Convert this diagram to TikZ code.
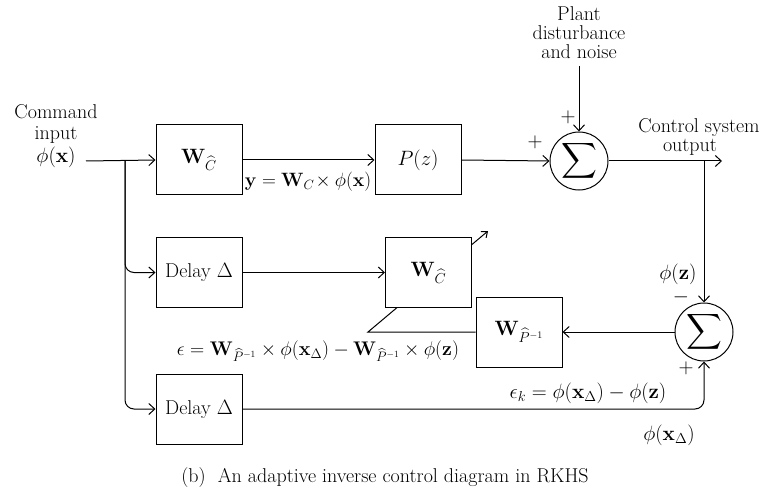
\documentclass[tikz,border=0pt]{standalone}
\usepackage{amsmath}
\usetikzlibrary{arrows.meta}
\begin{document}
\begin{tikzpicture}[x=1pt,y=-1pt,
  every node/.style={font=\fontsize{20}{19}\selectfont},
  blk/.style={draw,line width=1pt,fill=white,minimum width=86pt,minimum height=70pt,inner sep=0pt},
  sumc/.style={draw,line width=1pt,circle,minimum size=58pt,inner sep=0pt},
  conn/.style={line width=1pt},
  arr/.style={conn,-{Straight Barb[length=6pt,width=11pt,line width=1pt]}},
  lbl/.style={inner sep=1pt}]
\useasboundingbox (0,0) rectangle (769,492);
% text nodes
\node[lbl,align=center] (cmd) at (56,136) {Command\\[2pt]input\\[2pt]$\phi(\mathbf{x})$};
\coordinate (in) at (86,161);
\node[lbl,align=center,anchor=north] (plant) at (579,5) {Plant\\disturbance\\and noise};
\coordinate (plantend) at (579,66);
\node[lbl,align=center] (outtxt) at (699,137) {Control system\\output\hspace*{18pt}};
% blocks
\node[blk] (wc1) at (199,160) {$\mathbf{W}_{\widehat{C}}$};
\node[blk] (pz) at (418,160) {$P(z)$};
\node[sumc] (s1) at (579,161) {\fontsize{26}{26}\selectfont$\displaystyle\sum$};
\coordinate (outend) at (722,161);
\coordinate (br2) at (704,161);
\node[blk] (d1) at (199,272.5) {Delay $\Delta$};
\node[blk] (d2) at (199,409) {Delay $\Delta$};
\node[blk] (wp) at (519,332) {$\mathbf{W}_{\widehat{P}^{-1}}$};
\node[sumc] (s2) at (704,332) {\fontsize{26}{26}\selectfont$\displaystyle\sum$};
% adaptive line behind wc2
\coordinate (kink) at (368,332);
\coordinate (adtip) at (488,231);
\draw[conn,-{Straight Barb[length=5pt,width=8pt,line width=1pt]}] (wp.west) -- (kink) -- (adtip);
\node[blk] (wc2) at (428.5,272.5) {$\mathbf{W}_{\widehat{C}}$};
% connectors
\coordinate (br1) at (125,161);
\draw[arr] (in) -- (wc1.west);
\draw[arr,rounded corners=9pt] (br1) |- (d1.west);
\draw[arr,rounded corners=9pt] (br1) |- (d2.west);
\draw[arr] (wc1.east) -- (pz.west);
\draw[arr] (pz.east) -- (s1.west);
\draw[arr] (plantend) -- (s1.north);
\draw[arr] (s1.east) -- (outend);
\draw[arr] (br2) -- (s2.north);
\draw[arr] (s2.west) -- (wp.east);
\draw[arr] (d1.east) -- (wc2.west);
\draw[arr,rounded corners=9pt] (d2.east) -| (s2.south);
% labels
\node[lbl] (ylab) at (308,182) {\scalebox{0.93}{$\mathbf{y}=\mathbf{W}_{C}\!\times\phi(\mathbf{x})$}};
\node[lbl] (p1) at (535,142) {$+$};
\node[lbl] (p2) at (568,117) {$+$};
\node[lbl] (phz) at (678,274) {$\phi(\mathbf{z})$};
\node[lbl] (mn) at (681,297) {$-$};
\node[lbl] (p3) at (686,368) {$+$};
\node[lbl] (eps) at (318,351) {\scalebox{0.95}{$\epsilon=\mathbf{W}_{\widehat{P}^{-1}}\times\phi(\mathbf{x}_\Delta)-\mathbf{W}_{\widehat{P}^{-1}}\times\phi(\mathbf{z})$}};
\node[lbl] (epsk) at (588,393) {$\epsilon_k=\phi(\mathbf{x}_\Delta)-\phi(\mathbf{z})$};
\node[lbl] (phxd) at (669,435) {$\phi(\mathbf{x}_\Delta)$};
\node[lbl] (cap) at (385,478) {(b)\ \ An adaptive inverse control diagram in RKHS};
\end{tikzpicture}
\end{document}
